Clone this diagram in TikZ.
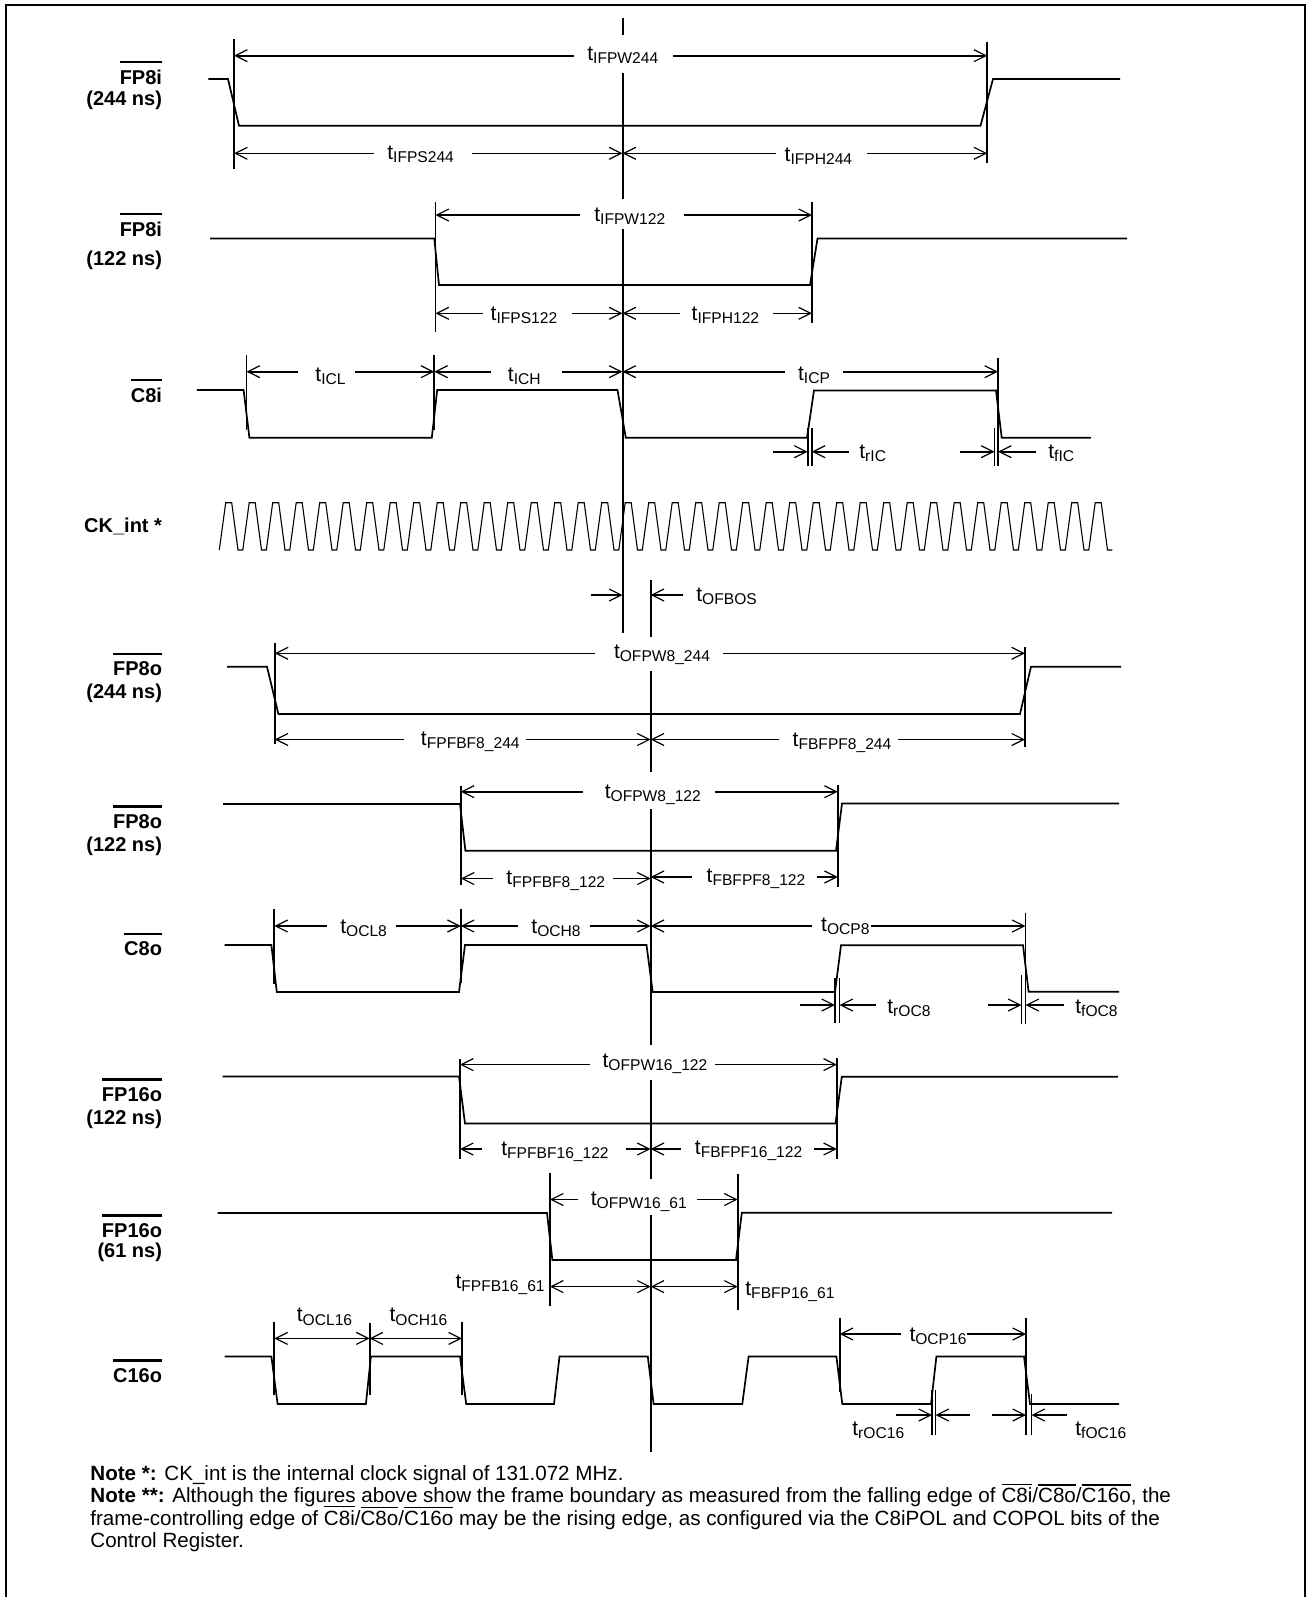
\documentclass[tikz,border=0pt]{standalone}
\usepackage{fontspec}
\setmainfont{Liberation Sans}
\usetikzlibrary{arrows.meta}
\newcommand{\tm}[1]{{\fontsize{10.5}{12}\selectfont t}\raisebox{-1.7pt}{\fontsize{7.8}{9}\selectfont #1}}
\newcommand{\obar}[1]{\vbox{\hrule height 1.3pt\kern 3.2pt\hbox{#1}}}
\newcommand{\nbar}[1]{\vbox{\hrule height 0.7pt\kern 1.3pt\hbox{#1}}}
\newcommand{\dimg}[5]{\draw[dimarr] (#3,#1) -- (#2,#1); \draw[dimarr] (#4,#1) -- (#5,#1);}
\newcommand{\vmk}[3]{\draw[markline] (#1,#2) -- (#1,#3);}
\begin{document}
\begin{tikzpicture}[x=0.5pt,y=-0.5pt,
 sig/.style={line width=0.85pt},
 clk/.style={line width=0.55pt},
 vline/.style={line width=1pt},
 markline/.style={line width=0.9pt},
 dimarr/.style={line width=0.8pt,-{Straight Barb[length=6pt,width=6pt,line width=0.6pt]}},
 dimboth/.style={line width=0.8pt,{Straight Barb[length=6pt,width=6pt,line width=0.6pt]}-{Straight Barb[length=6pt,width=6pt,line width=0.6pt]}},
 lab/.style={font=\fontsize{10}{12}\selectfont\bfseries, anchor=base east, inner sep=0pt},
 tl/.style={anchor=base, inner sep=0pt},
 tlw/.style={anchor=base west, inner sep=0pt},
 tle/.style={anchor=base east, inner sep=0pt},
 note/.style={anchor=base west, inner sep=0pt, font=\fontsize{10.3}{12}\selectfont}]
\useasboundingbox (0,0) rectangle (1306,1597);
\draw[line width=1pt] (5.5,1610) -- (5.5,5) -- (1305,5) -- (1305,1610);

% ---------- signal labels ----------
\node[lab] (n1) at (162.4,84) {\obar{FP8i}};
\node[lab] (n1b) at (162.4,105.5) {(244 ns)};
\node[lab] (n2) at (162.4,236) {\obar{FP8i}};
\node[lab] (n2b) at (162.4,265) {(122 ns)};
\node[lab] (n3) at (162.4,402) {\obar{C8i}};
\node[lab] (n4) at (162.4,532) {CK\_int *};
\node[lab] (n5) at (162.4,675.5) {\obar{FP8o}};
\node[lab] (n5b) at (162.4,698) {(244 ns)};
\node[lab] (n6) at (162.4,828) {\obar{FP8o}};
\node[lab] (n6b) at (162.4,851) {(122 ns)};
\node[lab] (n7) at (162.4,955.7) {\obar{C8o}};
\node[lab] (n8) at (162.4,1101) {\obar{FP16o}};
\node[lab] (n8b) at (162.4,1124) {(122 ns)};
\node[lab] (n9) at (162.4,1237) {\obar{FP16o}};
\node[lab] (n9b) at (162.4,1257) {(61 ns)};
\node[lab] (n10) at (162.4,1382) {\obar{C16o}};

% ---------- reference lines ----------
\draw[vline] (622.5,18) -- (622.5,35);
\draw[vline] (622.5,73) -- (622.5,199);
\draw[vline] (622.5,229) -- (622.5,633);
\draw[vline] (650.7,580) -- (650.7,637);
\draw[vline] (650.7,671) -- (650.7,772);
\draw[vline] (650.7,809) -- (650.7,1045);
\draw[vline] (650.7,1080) -- (650.7,1179);
\draw[vline] (650.7,1215) -- (650.7,1452);

% ---------- waveforms ----------
\draw[sig] (208.4,79) -- (228,79) -- (239,125.7) -- (980.5,125.7) -- (993,79) -- (1120,79);
\draw[sig] (210,238.5) -- (434.3,238.5) -- (439,285) -- (810,285) -- (817.5,238.5) -- (1127,238.5);
\draw[sig] (196.8,390) -- (243.6,390) -- (249.4,437.7) -- (431.8,437.7) -- (437.2,390) -- (617.5,390) -- (625.8,437.7) -- (807,437.7) -- (814,390.5) -- (996,390.5) -- (1001.7,437.7) -- (1090.8,437.7);
\draw[clk] (219.3,550) \foreach \k in {0,...,37}{ -- ({219.3+23.5*\k+6.4},502.7) -- ({219.3+23.5*\k+12.4},502.7) -- ({219.3+23.5*\k+18.7},550) -- ({219.3+23.5*\k+23.5},550) };
\draw[sig] (227,666.7) -- (267,666.7) -- (278.4,714) -- (1020,714) -- (1031,666.7) -- (1121,666.7);
\draw[sig] (223,804) -- (460,804) -- (465.4,850.7) -- (836,850.7) -- (842,803.5) -- (1119,803.5);
\draw[sig] (224.6,945) -- (271.4,945) -- (276.8,992) -- (459,992) -- (465,945) -- (646.5,945) -- (652.7,992) -- (835,992) -- (841,945.3) -- (1023,945.3) -- (1028.6,991.7) -- (1119,991.7);
\draw[sig] (222.5,1076.5) -- (459,1076.5) -- (465,1123.5) -- (835.5,1123.5) -- (841.8,1076.7) -- (1117.8,1076.7);
\draw[sig] (217.5,1213) -- (547,1213) -- (552.4,1260) -- (736,1260) -- (741.8,1212.7) -- (1112,1212.7);
\draw[sig] (224.6,1356.5) -- (271.4,1356.5) -- (277.6,1404) -- (365.9,1404) -- (370.9,1356.5) -- (460,1356.5) -- (466.2,1404) -- (554,1404) -- (559.5,1356.5) -- (647.8,1356.5) -- (653.6,1404) -- (742.3,1404) -- (748.6,1356.5) -- (836.4,1356.5) -- (842.3,1404) -- (931,1404) -- (936.4,1356.5) -- (1024,1356.5) -- (1030,1404) -- (1119,1404);

% ---------- markers ----------
\vmk{234}{39}{169}
\vmk{987.3}{42}{163}
\vmk{435.5}{202}{332}
\vmk{812}{202}{323}
\vmk{246.5}{355}{430}
\vmk{434.3}{355}{430}
\vmk{998}{358}{466}
\vmk{994.5}{428}{466}
\vmk{807.6}{428}{466}
\vmk{811.8}{428}{466}
\vmk{274.7}{643}{744.3}
\vmk{1025}{646.7}{746.7}
\vmk{460.8}{786}{885}
\vmk{837.8}{785}{886.7}
\vmk{274.3}{909}{983.5}
\vmk{460.8}{909}{982.5}
\vmk{1025.5}{912.7}{1024}
\vmk{1021.5}{975}{1024}
\vmk{835}{978}{1023}
\vmk{839.5}{978}{1023}
\vmk{460}{1059}{1159}
\vmk{836.9}{1058}{1159}
\vmk{550}{1172.7}{1306}
\vmk{737.7}{1174}{1310}
\vmk{274.3}{1321.6}{1394.8}
\vmk{369.6}{1322.7}{1394.8}
\vmk{462}{1321.6}{1394.8}
\vmk{839.6}{1318}{1391.7}
\vmk{1026}{1318}{1435}
\vmk{1031.5}{1394}{1435}
\vmk{932}{1390}{1435}
\vmk{935.5}{1390}{1435}

% ---------- dimension arrows ----------
\dimg{55.7}{234}{574}{672.5}{987.3}
\dimg{153.3}{234}{374}{472}{622.5}
\dimg{153.3}{622.5}{775.6}{867}{987.3}
\dimg{215}{435.5}{580}{683.5}{812}
\dimg{313.3}{435.5}{483}{572}{622.5}
\dimg{313.3}{622.5}{680}{773}{812}
\dimg{371.7}{246.5}{298}{355}{434.3}
\dimg{371.7}{434.3}{491}{561.6}{622.5}
\dimg{371.7}{622.5}{784.6}{843}{998}
\dimg{653.3}{274.7}{594.7}{722.5}{1025}
\dimg{739.5}{274.7}{404}{526}{650.7}
\dimg{739.5}{650.7}{779}{898}{1025}
\dimg{791.7}{460.8}{583}{714.8}{837.8}
\dimg{878.5}{460.8}{493}{613}{650.7}
\dimg{877}{650.7}{692}{817}{837.8}
\dimg{926}{274.3}{327}{395.7}{460.8}
\dimg{926}{460.8}{518}{590}{650.7}
\dimg{926}{650.7}{811.6}{871}{1025.5}
\dimg{1064.6}{460}{589.7}{714.8}{836.9}
\dimg{1149}{460}{482}{625.8}{650.7}
\dimg{1149}{650.7}{681}{814}{836.9}
\dimg{1199.5}{550}{578}{697}{737.7}
\dimg{1334}{839.6}{900.8}{967}{1026}
\draw[dimboth] (550,1286.6) -- (650.7,1286.6);
\draw[dimboth] (650.7,1286.6) -- (737.7,1286.6);
\draw[dimboth] (274.3,1338.4) -- (369.6,1338.4);
\draw[dimboth] (369.6,1338.4) -- (462,1338.4);
% edge arrows
\draw[dimarr] (590.6,595) -- (622.5,595);
\draw[dimarr] (683,595) -- (650.7,595);
\draw[dimarr] (773,451.7) -- (807.6,451.7);
\draw[dimarr] (848.6,451.7) -- (811.8,451.7);
\draw[dimarr] (960,451.7) -- (994.5,451.7);
\draw[dimarr] (1036,451.7) -- (998,451.7);
\draw[dimarr] (800,1005) -- (835,1005);
\draw[dimarr] (875.6,1005) -- (839.5,1005);
\draw[dimarr] (988,1005) -- (1021.5,1005);
\draw[dimarr] (1063.8,1005) -- (1025.5,1005);
\draw[dimarr] (895.7,1415) -- (932,1415);
\draw[dimarr] (970.4,1415) -- (935.5,1415);
\draw[dimarr] (991.5,1415) -- (1026,1415);
\draw[dimarr] (1066.7,1415) -- (1031.5,1415);

% ---------- timing labels ----------
\node[tl] (t1) at (622.8,60) {\tm{IFPW244}};
\node[tl] (t2) at (420.6,159) {\tm{IFPS244}};
\node[tl] (t3) at (818.4,161) {\tm{IFPH244}};
\node[tl] (t4) at (629.8,221) {\tm{IFPW122}};
\node[tl] (t5) at (524,320) {\tm{IFPS122}};
\node[tl] (t6) at (725.4,320) {\tm{IFPH122}};
\node[tl] (t7) at (330.5,381) {\tm{ICL}};
\node[tl] (t8) at (524.3,381) {\tm{ICH}};
\node[tl] (t9) at (814,380) {\tm{ICP}};
\node[tlw] (t10) at (859,458) {\tm{rIC}};
\node[tlw] (t11) at (1048,458) {\tm{fIC}};
\node[tlw] (t12) at (696,601) {\tm{OFBOS}};
\node[tl] (t13) at (662,658) {\tm{OFPW8\_244}};
\node[tl] (t14) at (470.3,745) {\tm{FPFBF8\_244}};
\node[tl] (t15) at (842,746) {\tm{FBFPF8\_244}};
\node[tl] (t16) at (652.8,798) {\tm{OFPW8\_122}};
\node[tl] (t17) at (555.8,884) {\tm{FPFBF8\_122}};
\node[tl] (t18) at (756,882) {\tm{FBFPF8\_122}};
\node[tl] (t19) at (363.6,933) {\tm{OCL8}};
\node[tl] (t20) at (556,933) {\tm{OCH8}};
\node[tl] (t21) at (845.4,931) {\tm{OCP8}};
\node[tlw] (t22) at (887,1013) {\tm{rOC8}};
\node[tlw] (t23) at (1075,1013) {\tm{fOC8}};
\node[tl] (t24) at (655,1067) {\tm{OFPW16\_122}};
\node[tl] (t25) at (555,1155) {\tm{FPFBF16\_122}};
\node[tl] (t26) at (748.6,1154) {\tm{FBFPF16\_122}};
\node[tl] (t27) at (638.8,1205) {\tm{OFPW16\_61}};
\node[tle] (t28) at (545,1288) {\tm{FPFB16\_61}};
\node[tlw] (t29) at (745,1295) {\tm{FBFP16\_61}};
\node[tl] (t30) at (324.5,1321.6) {\tm{OCL16}};
\node[tl] (t31) at (418.5,1321.6) {\tm{OCH16}};
\node[tl] (t32) at (938,1341) {\tm{OCP16}};
\node[tlw] (t33) at (852,1435) {\tm{rOC16}};
\node[tlw] (t34) at (1075,1435) {\tm{fOC16}};

% ---------- notes ----------
\node[note] (note1) at (90,1480) {\textbf{Note *:} CK\_int is the internal clock signal of 131.072 MHz.};
\node[note] (note2) at (90,1502.5) {\textbf{Note **:} Although the figures above show the frame boundary as measured from the falling edge of \nbar{C8i}/\nbar{C8o}/\nbar{C16o}, the};
\node[note] (note3) at (90,1525) {frame-controlling edge of \nbar{C8i}/\nbar{C8o}/\nbar{C16o} may be the rising edge, as configured via the C8iPOL and COPOL bits of the};
\node[note] (note4) at (90,1547.5) {Control Register.};
\end{tikzpicture}
\end{document}
